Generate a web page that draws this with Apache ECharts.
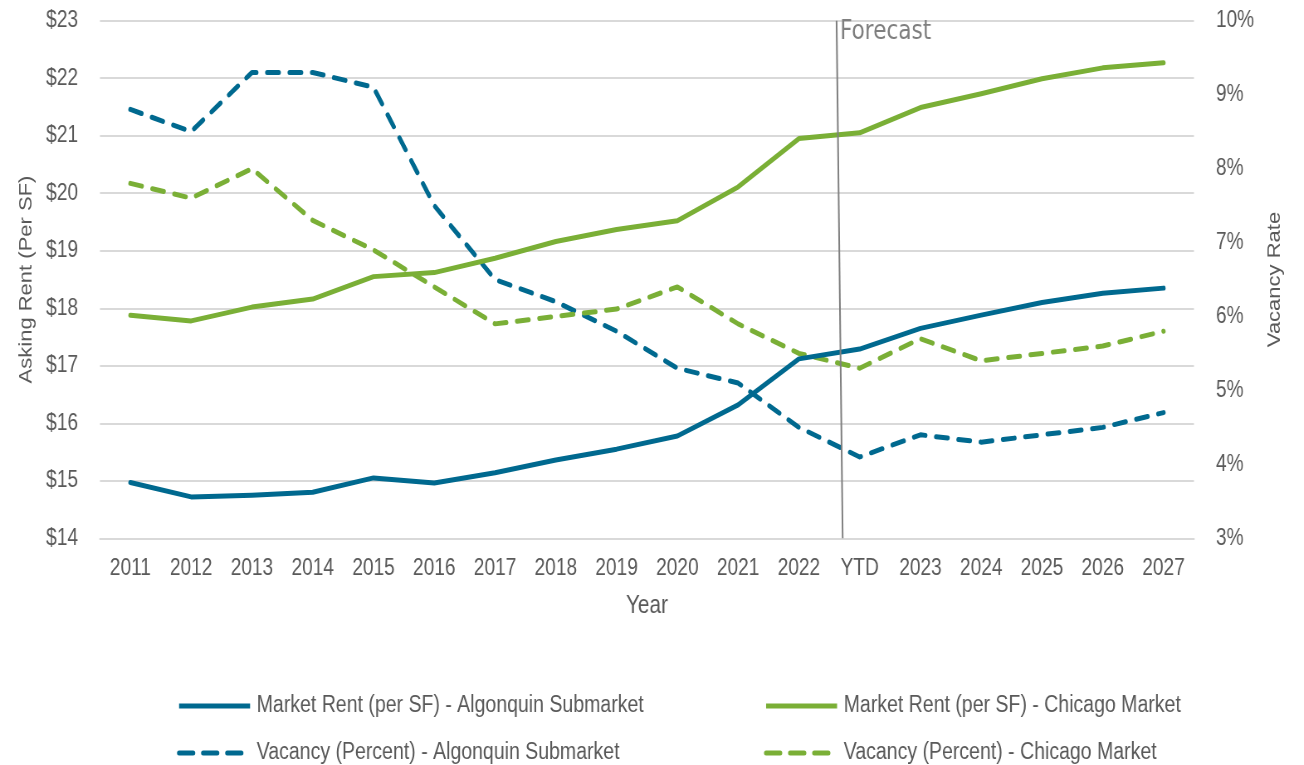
<!DOCTYPE html>
<html>
<head>
<meta charset="utf-8">
<title>Asking Rent and Vacancy Rate</title>
<script src="https://cdn.jsdelivr.net/npm/echarts@6/dist/echarts.min.js"></script>
<style>
  html, body { margin: 0; padding: 0; background: #ffffff; overflow: hidden; }
  #frame { width: 1304px; height: 765px; overflow: hidden; position: relative; }
  #chart { height: 765px; transform-origin: 0 0; }
</style>
</head>
<body>
<div id="frame"><div id="chart"></div></div>
<script>
// Periods along the horizontal axis
const years = ['2011', '2012', '2013', '2014', '2015', '2016', '2017', '2018', '2019',
  '2020', '2021', '2022', 'YTD', '2023', '2024', '2025', '2026', '2027'];

// Market rent, dollars per square foot
const rentAlgonquin = [14.97, 14.72, 14.75, 14.80, 15.05, 14.96, 15.14, 15.36, 15.55,
  15.78, 16.32, 17.12, 17.29, 17.65, 17.88, 18.10, 18.26, 18.35];
const rentChicago = [17.88, 17.78, 18.02, 18.16, 18.55, 18.62, 18.87, 19.16, 19.37,
  19.52, 20.11, 20.95, 21.05, 21.49, 21.73, 21.99, 22.18, 22.27];

// Vacancy, percent
const vacancyAlgonquin = [8.8, 8.5, 9.3, 9.3, 9.1, 7.5, 6.5, 6.2, 5.8,
  5.3, 5.1, 4.5, 4.1, 4.4, 4.3, 4.4, 4.5, 4.7];
const vacancyChicago = [7.8, 7.6, 8.0, 7.3, 6.9, 6.4, 5.9, 6.0, 6.1,
  6.4, 5.9, 5.5, 5.3, 5.7, 5.4, 5.5, 5.6, 5.8];

// Forecast divider: [category position, rent value], bottom end first, top end last
const forecastMarker = [[11.72, 14], [11.62, 23]];

// Axis ranges
const rentAxis = { min: 14, max: 23, step: 1 };
const vacancyAxis = { min: 3, max: 10, step: 1 };

const seriesNames = [
  'Market Rent (per SF) - Algonquin Submarket',
  'Market Rent (per SF) - Chicago Market',
  'Vacancy (Percent) - Algonquin Submarket',
  'Vacancy (Percent) - Chicago Market'
];

// The chart is laid out wide and condensed horizontally, giving the tall, narrow lettering.
const SQUEEZE = 0.83;
const PAGE_W = 1304;
const sx = px => px / SQUEEZE;   // page-space horizontal size -> layout size

const el = document.getElementById('chart');
el.style.width = Math.round(sx(PAGE_W)) + 'px';
el.style.transform = 'scaleX(' + SQUEEZE + ')';

const BLUE = '#00698f';
const GREEN = '#7aaf36';
const TEXT = '#595959';
const FONT = '"Liberation Sans", Arial, sans-serif';
const PLOT_DASH = [14, 13];
const LEGEND_DASH = [17, 12];

function legendAt(name, left, top, dashed) {
  return {
    data: [name],
    left: sx(left),
    top: top,
    padding: 0,
    orient: 'horizontal',
    itemWidth: sx(71),
    itemHeight: 5,
    selectedMode: false,
    itemStyle: { opacity: 0 },
    lineStyle: { width: 5, type: dashed ? LEGEND_DASH : 'solid', cap: dashed ? 'round' : 'butt' },
    textStyle: { color: TEXT, fontFamily: FONT, fontSize: 23.5, padding: [0, 0, 0, 3] }
  };
}

const chart = echarts.init(el, null, { renderer: 'canvas' });

chart.setOption({
  animation: false,
  backgroundColor: '#ffffff',
  grid: { left: sx(100), right: sx(110), top: 20.7, bottom: 226.7, containLabel: false },
  legend: [
    legendAt(seriesNames[0], 177, 694, false),
    legendAt(seriesNames[1], 764, 694, false),
    legendAt(seriesNames[2], 177, 741, true),
    legendAt(seriesNames[3], 764, 741, true)
  ],
  xAxis: [
    {
      type: 'category',
      data: years,
      boundaryGap: true,
      name: 'Year',
      nameLocation: 'middle',
      nameGap: 55,
      nameTextStyle: { color: TEXT, fontFamily: FONT, fontSize: 25 },
      axisLine: { show: true, lineStyle: { color: '#d9d9d9', width: 2 } },
      axisTick: { show: false },
      axisLabel: { interval: 0, color: TEXT, fontFamily: FONT, fontSize: 23, margin: 19 },
      splitLine: { show: false }
    },
    {
      type: 'value',
      min: -0.5,
      max: years.length - 0.5,
      show: false
    }
  ],
  yAxis: [
    {
      type: 'value',
      min: rentAxis.min,
      max: rentAxis.max,
      interval: rentAxis.step,
      name: 'Asking Rent (Per SF)',
      nameLocation: 'middle',
      nameRotate: 90,
      nameGap: sx(64.5),
      nameTextStyle: { color: TEXT, fontFamily: FONT, fontSize: 22 },
      axisLine: { show: false },
      axisTick: { show: false },
      axisLabel: { color: TEXT, fontFamily: FONT, fontSize: 23, margin: sx(22), formatter: v => '$' + v },
      splitLine: { show: true, lineStyle: { color: '#d9d9d9', width: 2 } }
    },
    {
      type: 'value',
      min: vacancyAxis.min,
      max: vacancyAxis.max,
      interval: vacancyAxis.step,
      position: 'right',
      name: 'Vacancy Rate',
      nameLocation: 'middle',
      nameRotate: 90,
      nameGap: sx(72),
      nameTextStyle: { color: TEXT, fontFamily: FONT, fontSize: 22 },
      axisLine: { show: false },
      axisTick: { show: false },
      axisLabel: { color: TEXT, fontFamily: FONT, fontSize: 23, margin: sx(22), formatter: v => v + '%' },
      splitLine: { show: false }
    }
  ],
  series: [
    {
      name: seriesNames[2],
      type: 'line',
      yAxisIndex: 1,
      data: vacancyAlgonquin,
      symbol: 'none',
      color: BLUE,
      lineStyle: { color: BLUE, width: 5, type: PLOT_DASH, cap: 'round', join: 'round' },
      z: 3
    },
    {
      name: seriesNames[3],
      type: 'line',
      yAxisIndex: 1,
      data: vacancyChicago,
      symbol: 'none',
      color: GREEN,
      lineStyle: { color: GREEN, width: 5, type: PLOT_DASH, cap: 'round', join: 'round' },
      z: 3
    },
    {
      name: seriesNames[0],
      type: 'line',
      yAxisIndex: 0,
      data: rentAlgonquin,
      symbol: 'none',
      color: BLUE,
      lineStyle: { color: BLUE, width: 5, cap: 'round', join: 'round' },
      z: 4
    },
    {
      name: seriesNames[1],
      type: 'line',
      yAxisIndex: 0,
      data: rentChicago,
      symbol: 'none',
      color: GREEN,
      lineStyle: { color: GREEN, width: 5, cap: 'round', join: 'round' },
      z: 4
    },
    {
      name: 'Forecast',
      type: 'line',
      xAxisIndex: 1,
      yAxisIndex: 0,
      silent: true,
      symbol: 'none',
      clip: false,
      color: '#808080',
      lineStyle: { color: '#808080', width: 2 },
      data: forecastMarker,
      endLabel: {
        show: true,
        formatter: 'Forecast',
        distance: 4,
        offset: [0, 12],
        align: 'left',
        verticalAlign: 'middle',
        color: '#7f7f7f',
        fontFamily: '"DejaVu Sans", "Open Sans", sans-serif',
        fontSize: 26
      },
      z: 5
    }
  ]
});
</script>
</body>
</html>
